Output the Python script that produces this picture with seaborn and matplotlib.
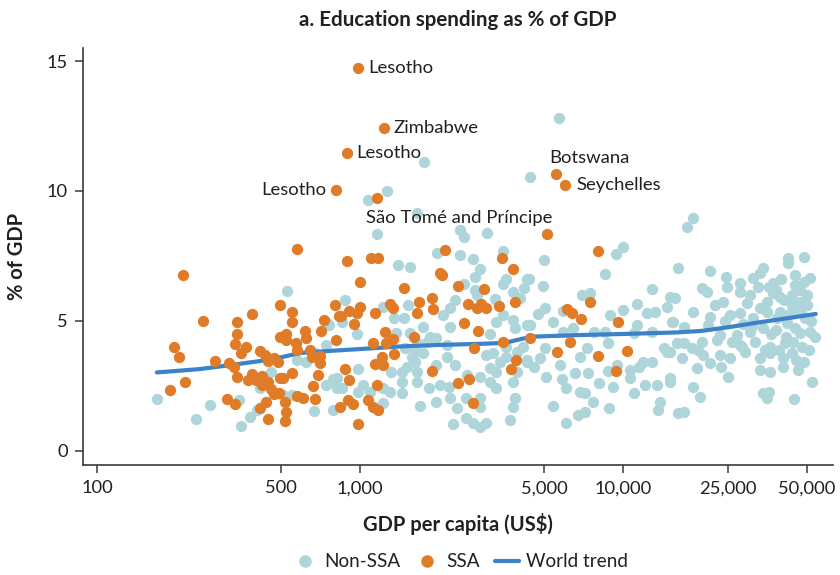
import numpy as np
import matplotlib
matplotlib.use('Agg')
import matplotlib.pyplot as plt
import seaborn as sns
import pandas as pd
from matplotlib.lines import Line2D

# Non-SSA countries: GDP per capita (US$) and education spending (% of GDP)
non_ssa_gdp = [
    169, 238, 270, 353, 382, 405, 346, 460, 417, 510, 552, 530, 575, 625, 675, 740, 760, 670, 790, 740, 790, 820, 750,
    5700, 1750, 4430, 1070, 1270, 1640, 1160, 2400, 2480, 3050,
    1970, 2400, 2690, 3480, 1390, 1550, 2860, 2730, 3600, 3500, 4300, 2490, 2730, 2780, 3250, 3800, 4050, 4200,
    880, 855, 1220, 1520, 2300, 2200, 2070, 2200, 1350, 1470, 1730, 1370, 1550, 970, 1950, 1800, 3120, 3300, 3480,
    3800, 3870, 4300, 1620, 1730, 2140, 2300, 1950, 1620, 3020, 3200, 3600, 3950, 4300, 985, 1310, 1440, 1510, 1650,
    815, 780, 855, 1030, 985, 1090, 1220, 1300, 1440, 1640, 1830, 2170, 2550, 2860, 3120, 3300, 3800, 3280, 1220,
    1690, 1950, 2200, 2330, 2520, 2860, 2860, 2520, 2250, 2690, 2860, 3020, 3720, 3870, 3800, 3950, 3600,
    1580, 1650, 1850, 2140, 3400, 3120, 1480, 1440, 2015,
    5000, 9400, 9950, 8500, 4960, 4390, 16200, 12900, 6990, 7490, 11340, 15100, 14700, 5050, 4750, 5430, 5920, 8930,
    9950, 12350, 13200, 15400, 4430, 6450, 8500, 11340, 11000, 12900, 4150, 5050, 7280, 8750, 14250, 16000, 4300,
    4830, 6860, 11900, 12900, 14700, 4570, 5760, 8750, 10640, 11450, 5100, 6580, 7350, 5880, 8110, 9170, 10640,
    12100, 13420, 15100, 6050, 6860, 7150, 11000, 7700, 5430, 8840, 13840, 13570, 16200, 6050, 6710, 7150, 9500,
    7750, 5920,
    18500, 17500, 21440, 24700, 42400, 42400, 48800, 20000, 20800, 24900, 27900, 31300, 33200, 34100, 37200, 45000,
    48800, 51300, 45000, 15800, 18500, 22400, 24000, 27900, 30400, 35300, 37200, 39600, 43800, 46900, 50000, 21440,
    25500, 27900, 31300, 35300, 39600, 42400, 47400, 15500, 17000, 21000, 23300, 27000, 30400, 34100, 38000, 42000,
    45000, 46900, 51300, 53600, 17000, 20000, 22800, 27900, 31800, 36300, 41300, 44200, 15100, 18300, 19300, 16800,
    20200, 23300, 25500, 28400, 33200, 36300, 40600, 43800, 19100, 21440, 23600, 33200, 36300, 40600, 48800, 25000,
    46100, 15100, 18500, 19600, 33900, 35900, 35300, 44500, 52300, 17000,
    38000, 41000, 44000, 47000, 50000, 40000, 36000, 32500, 29500, 33000, 38500, 44000, 49000, 52000, 31000, 28500,
    36500, 41500, 48000, 26000, 24500, 29000, 34500, 39000, 45500, 51000,
]
non_ssa_pct = [
    2.0, 1.23, 1.77, 0.96, 1.3, 1.58, 1.96, 3.04, 2.42, 2.15, 2.15, 6.15, 3.5, 3.42, 3.77, 4.08, 4.85, 1.54, 1.58, 2.54, 2.77, 2.42, 4.92,
    12.8, 11.12, 10.54, 9.65, 10.0, 9.15, 8.35, 8.5, 8.23, 8.38,
    7.6, 7.54, 7.38, 7.7, 7.15, 7.08, 7.0, 6.7, 6.6, 6.42, 6.6, 6.42, 6.2, 6.0, 5.85, 6.1, 5.88, 6.27,
    5.8, 4.96, 5.54, 5.6, 5.8, 5.5, 5.23, 4.77, 5.1, 5.1, 4.77, 4.54, 4.54, 4.5, 4.35, 4.2, 4.5, 4.96, 5.23,
    5.04, 4.73, 4.85, 3.8, 3.77, 3.6, 3.3, 3.3, 3.42, 3.7, 3.77, 3.6, 3.8, 3.42, 3.15, 3.04, 3.04, 3.23, 3.04,
    2.8, 2.65, 2.42, 2.54, 2.27, 2.27, 2.42, 2.27, 2.23, 2.65, 2.42, 2.46, 2.92, 2.85, 2.65, 2.42, 2.65, 3.04, 1.85,
    1.73, 1.88, 2.04, 1.65, 2.04, 2.04, 1.7, 1.27, 1.04, 1.08, 0.92, 1.08, 1.2, 2.04, 1.7, 3.04, 4.0,
    3.6, 4.15, 4.38, 4.08, 3.42, 3.19, 3.96, 2.65, 2.54,
    7.35, 7.58, 7.85, 6.8, 6.35, 6.6, 7.04, 6.23, 6.0, 6.08, 5.65, 5.92, 5.54, 5.5, 5.27, 4.96, 5.38, 5.23,
    5.42, 5.3, 5.35, 4.96, 4.85, 4.73, 4.58, 4.85, 4.54, 4.58, 4.0, 3.96, 3.96, 4.15, 3.96, 4.15, 3.5,
    3.58, 3.6, 3.42, 3.42, 3.8, 3.23, 3.3, 3.08, 3.12, 3.23, 2.85, 3.0, 3.0, 2.77, 2.62, 2.46, 2.8,
    2.54, 2.54, 2.8, 2.42, 2.27, 2.23, 2.23, 1.88, 1.73, 1.65, 1.88, 1.58, 1.46, 1.08, 1.38, 1.5, 3.3,
    4.58, 4.58,
    8.96, 8.62, 6.92, 6.7, 7.42, 7.23, 7.46, 6.27, 6.12, 6.3, 6.46, 6.65, 6.85, 7.04, 6.46, 6.77,
    6.5, 6.65, 6.38, 5.88, 5.35, 5.6, 5.73, 6.12, 6.0, 5.73, 6.08, 5.92, 5.6, 5.73, 5.6, 5.15,
    5.23, 5.3, 5.1, 5.35, 5.35, 5.23, 5.35, 4.96, 4.77, 4.85, 4.46, 4.46, 4.58, 4.73, 4.65, 4.92,
    4.73, 4.54, 4.58, 4.38, 4.15, 4.2, 4.27, 4.08, 4.2, 4.0, 4.15, 4.2, 3.8, 3.96, 3.88, 3.58,
    3.7, 3.7, 3.58, 4.0, 3.58, 3.77, 3.58, 3.77, 3.19, 3.38, 3.23, 3.12, 3.04, 3.23, 3.42, 2.85,
    3.12, 2.65, 2.46, 2.08, 2.23, 2.27, 2.04, 2.0, 2.65, 1.5,
    6.2, 5.8, 6.0, 6.2, 6.0, 6.6, 6.3, 6.3, 5.7, 5.5, 5.1, 5.4, 5.1, 5.0, 4.8, 4.9,
    4.5, 4.4, 4.0, 4.2, 5.0, 3.8, 3.9, 3.9, 3.5, 3.9,
]

# Sub-Saharan African countries
ssa_gdp = [
    985, 1230, 890, 810, 5560, 6000, 5150,
    1160, 575, 213, 253, 196, 205, 189, 216, 280, 340, 387, 340, 335, 368, 353, 318, 331, 340, 311, 335,
    496, 552, 552, 496, 521, 525, 570, 575, 620, 625, 645, 710, 730, 805, 830, 810, 417, 435, 446, 470, 488,
    655, 705, 705, 690, 665, 675, 388, 374, 404, 423, 423, 446, 460, 473, 496, 510, 550, 490, 520, 575, 605,
    440, 417, 446, 525, 520,
    890, 1100, 1170, 1000, 1470, 2110, 2015, 2050, 2360, 2970, 3450, 3800, 845, 910, 950, 970, 1000, 1140,
    1300, 1330, 1680, 1640, 1880, 1890, 2580, 2780, 2890, 3020, 3380, 3870, 2490, 2800, 1120, 1240, 1260,
    1330, 1600, 1350, 2710, 3500, 1210, 1140, 1220, 880, 910, 1160, 1870, 2360, 2590, 3900, 3750, 840, 900,
    940, 1070, 1120, 1170, 985, 2690, 4430,
    8050, 7490, 6120, 6380, 6920, 9550, 6290, 5600, 8050, 10340, 9400,
]
ssa_pct = [
    14.73, 12.42, 11.46, 10.04, 10.65, 10.23, 8.35,
    9.73, 7.77, 6.77, 5.0, 4.0, 3.6, 2.35, 2.65, 3.45, 4.96, 5.27, 4.5, 4.1, 4.0, 3.77, 3.38, 3.23, 2.85, 2.0, 1.8,
    5.6, 5.35, 4.96, 4.4, 4.5, 4.27, 4.15, 3.9, 4.6, 4.35, 3.9, 4.6, 5.04, 5.6, 5.2, 4.27, 3.85, 3.7, 3.46, 3.58, 3.42,
    3.6, 3.65, 3.38, 2.92, 2.5, 2.0, 2.96, 2.73, 2.73, 2.88, 2.53, 2.65, 2.38, 2.2, 2.8, 2.8, 3.0, 2.23, 1.9, 2.1, 2.04,
    1.9, 1.65, 1.23, 1.5, 1.15,
    7.3, 7.42, 7.42, 6.5, 6.27, 7.73, 6.85, 6.77, 6.35, 6.23, 7.42, 7.0, 5.2, 5.38, 4.88, 5.3, 5.54, 5.3,
    5.65, 5.5, 5.73, 5.3, 5.88, 5.46, 5.65, 5.5, 5.65, 5.5, 5.58, 5.73, 4.92, 4.62, 4.15, 4.58, 4.15,
    4.3, 4.38, 3.73, 3.96, 4.2, 3.6, 3.35, 3.3, 3.15, 2.73, 2.54, 3.08, 2.6, 2.77, 3.5, 3.15, 1.7, 1.96,
    1.8, 1.96, 1.7, 1.58, 1.04, 1.85, 4.35,
    7.7, 5.73, 5.46, 5.3, 5.08, 4.96, 4.2, 3.8, 3.65, 3.85, 3.08,
]

# World trend line
trend_gdp = [169, 246, 320, 417, 510, 591, 769, 1000, 1419, 2015, 2860, 3400, 3700, 4200, 4600, 6900,
             10000, 16000, 20000, 25500, 33000, 43000, 54000]
trend_pct = [3.02, 3.15, 3.3, 3.46, 3.62, 3.77, 3.85, 3.92, 4.02, 4.08, 4.12, 4.15, 4.2, 4.33, 4.4, 4.46,
             4.5, 4.56, 4.62, 4.77, 4.95, 5.12, 5.27]

labels = ['Lesotho', 'Zimbabwe', 'Lesotho', 'Lesotho', 'Botswana', 'Seychelles', 'São Tomé and Príncipe']

teal = '#aed5da'
orange = '#e07b28'
blue = '#3b82c8'
dark = '#231f20'

sns.set_style('white')
plt.rcParams['font.family'] = ['Lato', 'DejaVu Sans']
plt.rcParams['text.color'] = dark

df_non = pd.DataFrame({'gdp': non_ssa_gdp, 'pct': non_ssa_pct})
df_ssa = pd.DataFrame({'gdp': ssa_gdp, 'pct': ssa_pct})
df_trend = pd.DataFrame({'gdp': trend_gdp, 'pct': trend_pct})

fig = plt.figure(figsize=(8.4, 5.75), dpi=100)
ax = fig.add_axes([0.0988, 0.1913, 0.8929, 0.7252])

sns.scatterplot(data=df_non, x='gdp', y='pct', color=teal, s=66, linewidth=0, ax=ax, zorder=2)
sns.lineplot(data=df_trend, x='gdp', y='pct', color=blue, linewidth=3, ax=ax, zorder=3)
sns.scatterplot(data=df_ssa, x='gdp', y='pct', color=orange, s=66, linewidth=0, ax=ax, zorder=4)

ax.set_xscale('log')
ax.set_xlim(88.5, 62800)
ax.set_ylim(-0.54, 15.5)
xt = [100, 500, 1000, 5000, 10000, 25000, 50000]
ax.set_xticks(xt)
ax.set_xticklabels([f'{v:,}' for v in xt])
ax.minorticks_off()
ax.set_yticks([0, 5, 10, 15])

for s in ['top', 'right']:
    ax.spines[s].set_visible(False)
for s in ['left', 'bottom']:
    ax.spines[s].set_color('#3a3a3a')
    ax.spines[s].set_linewidth(1.2)
ax.tick_params(axis='both', direction='out', length=6, width=1.1, color='#3a3a3a',
               labelsize=13.2, labelcolor=dark, pad=5, left=True, bottom=True)

ax.set_xlabel('GDP per capita (US$)', fontsize=14.5, fontweight='bold', color=dark)
ax.xaxis.set_label_coords(0.5, -0.115)
ax.set_ylabel('% of GDP', fontsize=14.5, fontweight='bold', color=dark)
ax.yaxis.set_label_coords(-0.074, 0.5)
ax.set_title('a. Education spending as % of GDP', fontsize=14.8, fontweight='bold', color=dark, pad=16)

# labelled SSA countries
offsets = [(10, 0, 'left'), (10, 0, 'left'), (10, 0, 'left'), (-10, 0, 'right'),
           (-7, 16, 'left'), (12, 0, 'left'), (5, 16, 'right')]
for i, lab in enumerate(labels):
    dx, dy, ha = offsets[i]
    ax.annotate(lab, (ssa_gdp[i], ssa_pct[i]), xytext=(dx, dy), textcoords='offset pixels',
                ha=ha, va='center', fontsize=13.3, color=dark)

handles = [
    Line2D([], [], marker='o', linestyle='', markersize=9, markerfacecolor=teal, markeredgewidth=0),
    Line2D([], [], marker='o', linestyle='', markersize=9, markerfacecolor=orange, markeredgewidth=0),
    Line2D([], [], color=blue, linewidth=3),
]
fig.legend(handles, ['Non-SSA', 'SSA', 'World trend'], loc='center', bbox_to_anchor=(0.548, 0.023),
           ncol=3, frameon=False, fontsize=13.6, handlelength=1.3, handletextpad=0.35, columnspacing=0.8,
           borderpad=0)

fig.savefig('out.png', dpi=100)
